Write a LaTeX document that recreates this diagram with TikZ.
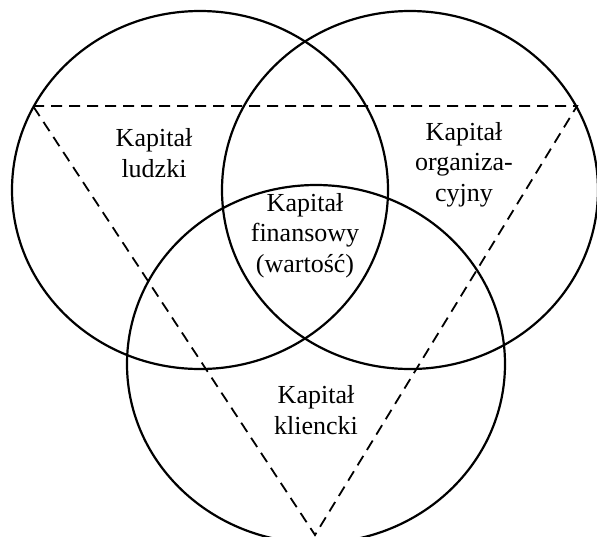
\documentclass[tikz,border=0pt]{standalone}
\usepackage{fontspec}
\setmainfont{Liberation Serif}
\begin{document}
\begin{tikzpicture}[x=1pt,y=-1pt,
  ring/.style={line width=2.2pt},
  tri/.style={line width=1.8pt, dash pattern=on 11pt off 7pt},
  label/.style={align=center, font=\fontsize{26}{30.5}\selectfont, inner sep=0pt, anchor=base}]
  \useasboundingbox (0,0) rectangle (597,536);
  \clip (0,0) rectangle (597,536);
  % three overlapping capital circles
  \draw[ring] (200,190) ellipse [x radius=188, y radius=179];
  \draw[ring] (410,190) ellipse [x radius=188, y radius=179];
  \draw[ring] (316,364) ellipse [x radius=189, y radius=179];
  % dashed triangle joining the circles
  \coordinate (tl) at (33,106);
  \coordinate (tr) at (577,106);
  \coordinate (bt) at (315,535);
  \draw[tri] (tl) -- (tr) -- (bt) -- cycle;
  % labels (anchored at the baseline of their last line)
  \node[label] (ludzki) at (154,177) {Kapitał\\ludzki};
  \node[label] (org) at (464,201) {Kapitał\\organiza-\\cyjny};
  \node[label] (fin) at (305,272) {Kapitał\\finansowy\\(wartość)};
  \node[label] (klient) at (316,434) {Kapitał\\kliencki};
\end{tikzpicture}
\end{document}
